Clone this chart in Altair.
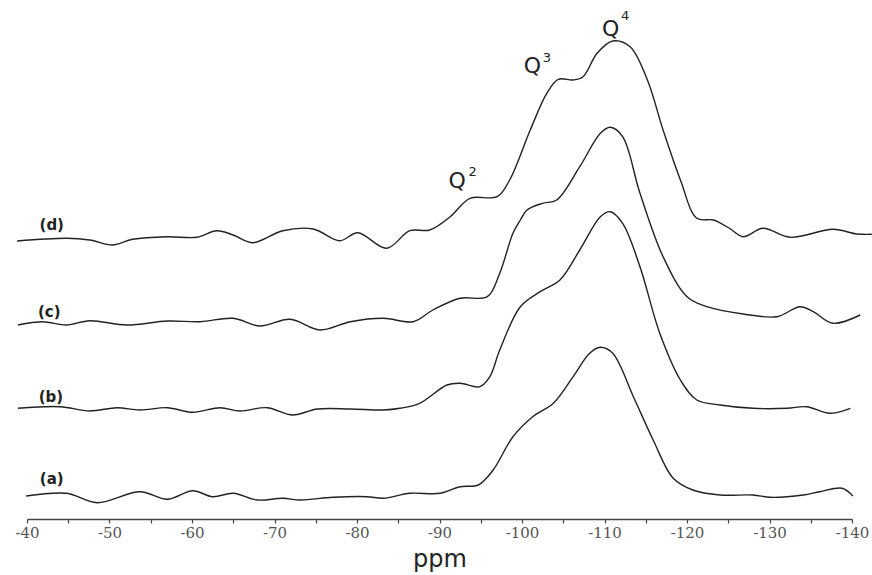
import altair as alt
import pandas as pd

# ---- data (ppm, relative intensity) ----
ppm_a = [-39.9, -44.8, -48.5, -53.7, -57.0, -60.1, -62.5, -65.0, -67.9, -71.0, -73.1, -77.1, -81.2, -83.2,
         -86.4, -90.1, -92.5, -94.7, -96.5, -98.9, -101.3, -103.8, -106.2, -108.2, -109.5, -111.0, -113.5,
         -115.9, -118.3, -120.7, -124.0, -128.0, -130.1, -134.1, -136.1, -138.8, -140.1]
int_a = [23, 25.7, 16.3, 27.3, 19.7, 28.3, 22.3, 25.7, 19, 20.7, 19, 21.7, 22.3, 20.7,
         25.7, 25.7, 32.3, 34, 49, 82.3, 102.3, 115.7, 142.3, 165.7, 171.7, 165.7, 122.3,
         79, 41, 29, 24, 24, 21.7, 24, 27.3, 30.7, 23]

ppm_b = [-38.9, -44.0, -47.6, -50.9, -53.7, -57.0, -60.1, -63.4, -65.8, -69.1, -72.2, -75.2, -79.2, -83.2,
         -85.2, -87.6, -90.9, -92.5, -94.9, -96.1, -97.3, -99.8, -102.2, -104.6, -107.0, -109.5, -110.7,
         -112.2, -114.3, -116.7, -119.2, -121.2, -124.0, -128.0, -132.1, -134.5, -137.3, -139.8]
int_b = [110.7, 112.3, 108, 111.3, 109, 111.3, 106.7, 111.3, 108, 111.3, 104, 110, 110, 109,
         110.7, 115.7, 134, 135.7, 132.3, 142.3, 169, 212.3, 227.3, 239, 269, 302.3, 307.3,
         295.7, 252.3, 185.7, 139, 119, 114, 110.7, 110.7, 112.3, 105.7, 110.7]

ppm_c = [-38.9, -41.9, -44.8, -47.6, -52.1, -57.0, -61.0, -65.0, -68.2, -71.9, -75.5, -79.2, -83.2, -86.8,
         -89.2, -92.5, -95.8, -97.3, -98.9, -99.8, -100.6, -102.5, -104.2, -107.0, -109.5, -110.7, -112.2,
         -114.3, -117.1, -120.0, -122.4, -126.8, -130.9, -133.7, -135.3, -137.7, -141.0]
int_c = [194, 197.3, 194, 198.3, 194, 198, 197.3, 200.7, 193, 199.7, 189, 197.3, 200.7, 197.3,
         209, 220.7, 222.3, 245.7, 285.7, 299, 309, 315.7, 319, 352.3, 385.7, 391.7, 382.3,
         325.7, 262.3, 222.3, 212.3, 205, 202.3, 212.3, 207.3, 195.7, 204]

ppm_d = [-38.8, -44.8, -47.6, -50.4, -52.8, -57.0, -60.6, -63.0, -65.0, -67.4, -71.0, -74.7, -77.9, -80.1,
         -83.6, -86.4, -88.8, -91.3, -93.7, -97.0, -98.5, -101.0, -103.0, -104.4, -106.2, -107.4, -109.1,
         -111.0, -113.1, -115.2, -117.1, -119.2, -121.2, -123.2, -125.1, -126.8, -129.2, -132.5, -137.7,
         -140.6, -142.4]
int_d = [278, 280.7, 279, 274, 279.7, 282.3, 281.7, 288.3, 284, 276.3, 288.3, 290, 278.3, 286.3,
         270.7, 288.3, 289, 302.3, 320.7, 322.3, 339, 389, 425.7, 439.7, 439, 442.3, 465.7,
         478, 472.3, 439, 389, 339, 300.7, 299, 291, 282.3, 290.7, 281.7, 289.7,
         285, 284.7]

sample_names = ["(a)", "(b)", "(c)", "(d)"]
label_ppm = [-43.0, -42.9, -42.7, -43.0]
label_int = [40.5, 122.5, 207.5, 294]

q_text = ["Q", "Q", "Q"]
q_ppm = [-93.2, -102.3, -111.8]
q_int = [338, 453, 490]
sup_text = ["2", "3", "4"]
sup_ppm = [-93.5, -102.5, -112.0]
sup_int = [347, 461, 503]

tick_values = list(range(-40, -145, -5))

# ---- build tables ----
rows = []
for name, xs, ys in zip(sample_names, [ppm_a, ppm_b, ppm_c, ppm_d], [int_a, int_b, int_c, int_d]):
    for x, y in zip(xs, ys):
        rows.append({"sample": name, "ppm": x, "intensity": y})
spec = pd.DataFrame(rows)
labels = pd.DataFrame({"ppm": label_ppm, "intensity": label_int, "text": sample_names})
qdf = pd.DataFrame({"ppm": q_ppm, "intensity": q_int, "text": q_text})
sdf = pd.DataFrame({"ppm": sup_ppm, "intensity": sup_int, "text": sup_text})

xscale = alt.Scale(domain=[-140, -40], reverse=True, nice=False, zero=False)
yscale = alt.Scale(domain=[0, 519], nice=False, zero=False)

xaxis = alt.Axis(
    values=tick_values,
    labelExpr="datum.value % 10 === 0 ? '-' + abs(datum.value) : ''",
    title="ppm",
    titleFont="DejaVu Sans",
    titleFontSize=24,
    titleFontWeight="normal",
    titleColor="#222",
    titleBaseline="alphabetic",
    titleY=47,
    labelFont="DejaVu Serif",
    labelFontSize=15,
    labelColor="#555",
    labelBaseline="alphabetic",
    labelPadding=14,
    labelOverlap=False,
    labelFlush=False,
    tickSize=4,
    tickColor="#444",
    tickWidth=1.2,
    domainColor="#444",
    domainWidth=1.5,
    grid=False,
)

lines = alt.Chart(spec).mark_line(interpolate="catmull-rom", strokeWidth=1.4, clip=False).encode(
    x=alt.X("ppm:Q", scale=xscale, axis=xaxis),
    y=alt.Y("intensity:Q", scale=yscale, axis=None),
    detail="sample:N",
    color=alt.value("#222"),
)

lab = alt.Chart(labels).mark_text(font="DejaVu Sans", fontSize=15, fontWeight="bold", color="#222").encode(
    x=alt.X("ppm:Q", scale=xscale), y=alt.Y("intensity:Q", scale=yscale), text="text:N"
)
qmark = alt.Chart(qdf).mark_text(font="DejaVu Sans", fontSize=22, color="#222", align="right").encode(
    x=alt.X("ppm:Q", scale=xscale), y=alt.Y("intensity:Q", scale=yscale), text="text:N"
)
smark = alt.Chart(sdf).mark_text(font="DejaVu Sans", fontSize=13, color="#222", align="left").encode(
    x=alt.X("ppm:Q", scale=xscale), y=alt.Y("intensity:Q", scale=yscale), text="text:N"
)

chart = alt.layer(lines, lab, qmark, smark).properties(
    width=825,
    height=519,
    autosize=alt.AutoSizeParams(type="none"),
    padding={"left": 27, "top": 0, "right": 20, "bottom": 56},
    background="white",
).configure_view(stroke=None)

chart.save("out.html", embed_options={"renderer": "svg", "actions": False})
